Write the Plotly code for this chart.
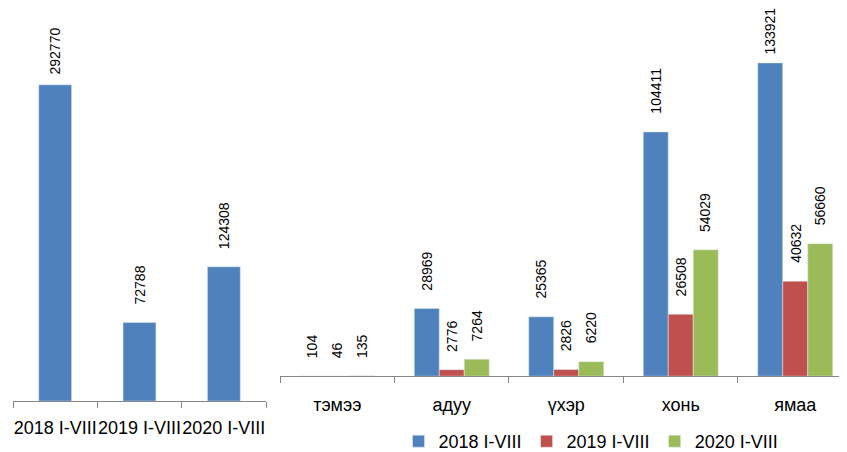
import plotly.graph_objects as go

# ---- data ----
period_labels = ["2018 I-VIII", "2019 I-VIII", "2020 I-VIII"]
total_values = [292770, 72788, 124308]

animal_categories = ["тэмээ", "адуу", "үхэр", "хонь", "ямаа"]
values_2018 = [104, 28969, 25365, 104411, 133921]
values_2019 = [46, 2776, 2826, 26508, 40632]
values_2020 = [135, 7264, 6220, 54029, 56660]

# ---- style ----
FONT = "Liberation Sans"
C_BLUE = "#4F81BD"
C_RED = "#C0504D"
C_GREEN = "#9BBB59"
AXIS_COLOR = "#868686"
W, H = 847, 452

fig = go.Figure()

fig.add_trace(go.Bar(
    x=period_labels, y=total_values, marker_color=C_BLUE, width=0.39,
    xaxis="x", yaxis="y", showlegend=False, hoverinfo="x+y",
))

series = [
    (period_labels[0], values_2018, C_BLUE, -25),
    (period_labels[1], values_2019, C_RED, 0),
    (period_labels[2], values_2020, C_GREEN, 25),
]
for name, vals, col, _ in series:
    fig.add_trace(go.Bar(
        x=animal_categories, y=vals, name=name, marker_color=col,
        xaxis="x2", yaxis="y2",
    ))

annotations = []
mx = max(total_values)
for cat, v in zip(period_labels, total_values):
    annotations.append(dict(
        x=cat, y=v, xref="x", yref="y", text=str(v), textangle=-90,
        showarrow=False, yanchor="bottom", xanchor="center",
        yshift=8 if v == mx else 16,
        font=dict(family=FONT, size=14, color="#000000"),
    ))
mx2 = max(max(values_2018), max(values_2019), max(values_2020))
for name, vals, col, xs in series:
    for cat, v in zip(animal_categories, vals):
        annotations.append(dict(
            x=cat, y=v, xref="x2", yref="y2", text=str(v), textangle=-90,
            showarrow=False, yanchor="bottom", xanchor="center",
            xshift=xs, yshift=6 if v == mx2 else 16,
            font=dict(family=FONT, size=14, color="#000000"),
        ))

axis_common = dict(
    type="category", showline=True, linecolor=AXIS_COLOR, linewidth=1,
    ticks="outside", tickson="boundaries", ticklen=6, tickcolor=AXIS_COLOR,
    tickangle=0, showgrid=False, zeroline=False,
    tickfont=dict(family=FONT, size=18, color="#000000"),
)

# page has an 8px body margin: figure coords = screen coords - 8
fig.update_layout(
    width=W, height=H,
    margin=dict(l=0, r=0, t=0, b=0),
    paper_bgcolor="white", plot_bgcolor="white",
    barmode="group", bargap=0.345, bargroupgap=0,
    font=dict(family=FONT, size=18, color="#000000"),
    xaxis=dict(domain=[5 / W, 258 / W], anchor="y", range=[-0.5, 2.5],
               ticklabelstandoff=10, **axis_common),
    yaxis=dict(domain=[58 / H, 1.0], range=[0, 363870], visible=False,
               anchor="x"),
    xaxis2=dict(domain=[272 / W, 1.0], anchor="y2", range=[-0.5, 4.522],
                ticklabelstandoff=12, **axis_common),
    yaxis2=dict(domain=[83 / H, 1.0], range=[0, 157380], visible=False,
                anchor="x2"),
    legend=dict(orientation="h", x=583 / W, xanchor="center",
                y=18 / H, yanchor="middle",
                font=dict(family=FONT, size=18, color="#000000"),
                bgcolor="rgba(0,0,0,0)"),
    annotations=annotations,
)

fig.write_html("out.html")
